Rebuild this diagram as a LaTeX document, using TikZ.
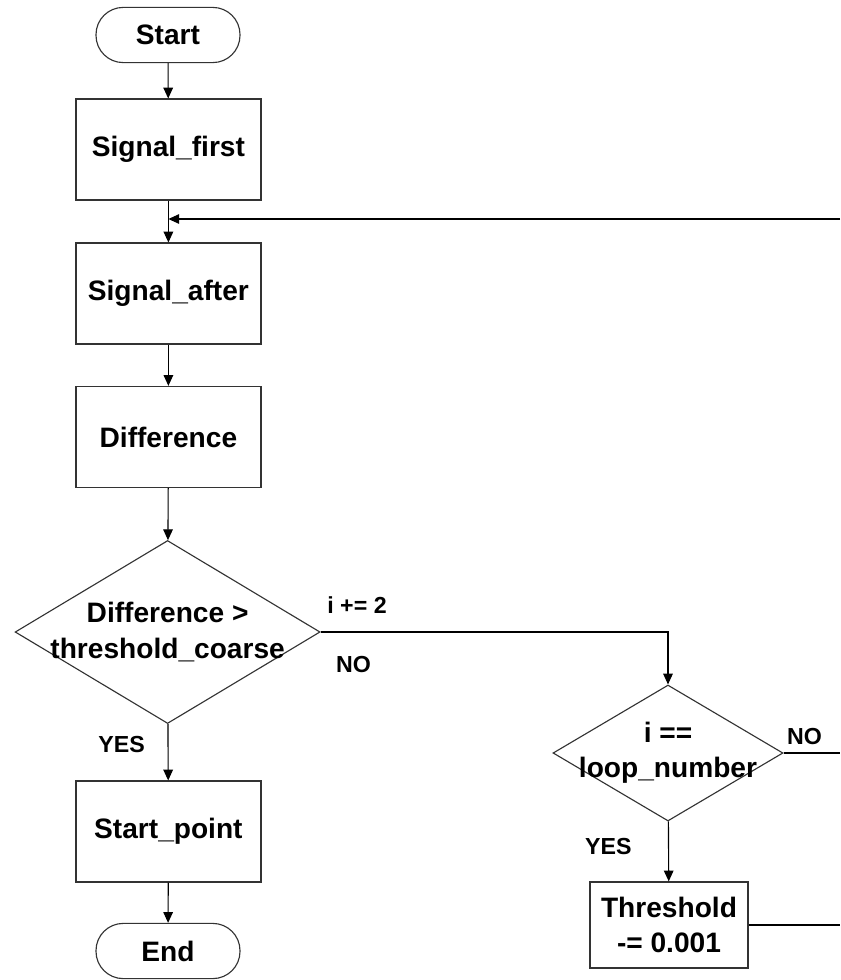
\documentclass[tikz,border=0pt]{standalone}
\usepackage{fontspec}
\setmainfont{Liberation Sans}
\usetikzlibrary{shapes.geometric,arrows.meta}

\tikzset{
  boxfont/.style={font=\fontsize{20}{25}\selectfont\bfseries},
  block/.style={boxfont, draw=black!80, line width=0.9pt, align=center,
    minimum width=4.625cm, minimum height=2.525cm},
  terminal/.style={boxfont, draw=black!80, line width=0.8pt, rounded corners=0.68cm,
    minimum width=3.6cm, minimum height=1.38cm},
  decision/.style={diamond, draw=black!80, line width=0.8pt, inner sep=0pt},
  tag/.style={font=\fontsize{16.5}{20}\selectfont\bfseries, inner sep=0pt},
  flow/.style={-{Triangle[length=0.27cm,width=0.24cm]}, line width=0.8pt},
}

\begin{document}
\begin{tikzpicture}
\fill[white] (0,0) rectangle (21,-24.5);
\useasboundingbox (0,0) rectangle (21,-24.5);

% main column
\node[terminal] (start) at (4.2,-0.875) {Start};
\node[block] (first) at (4.21,-3.74) {Signal\_first};
\node[block] (after) at (4.21,-7.34) {Signal\_after};
\node[block] (diff) at (4.21,-10.925) {Difference};
\node[decision, minimum width=7.625cm, minimum height=4.575cm,
  label={[boxfont, align=center]center:Difference >\\threshold\_coarse}] (dec1) at (4.19,-15.8) {};
\node[block] (startpt) at (4.21,-20.79) {Start\_point};
\node[terminal] (stop) at (4.2,-23.775) {End};

% right column
\node[decision, minimum width=5.75cm, minimum height=3.4cm,
  label={[boxfont, align=center]center:i ==\\loop\_number}] (dec2) at (16.7,-18.825) {};
\node[block, minimum width=3.95cm, minimum height=2.15cm] (thr) at (16.725,-23.125) {Threshold\\-= 0.001};

% edge labels
\node[tag] (inc) at (8.925,-15.125) {i += 2};
\node[tag] (no1) at (8.84,-16.625) {NO};
\node[tag] (yes1) at (3.04,-18.625) {YES};
\node[tag] (no2) at (20.11,-18.425) {NO};
\node[tag] (yes2) at (15.21,-21.175) {YES};

% loose ends at the right border
\coordinate (retin) at (21,-5.475);
\coordinate (join) at (first.south |- retin);
\coordinate (noout) at (21,-18.825);
\coordinate (throut) at (21,-23.125);

\foreach \a/\b in {start/first, first/after, after/diff, diff/dec1, dec1/startpt, startpt/stop, dec2/thr}
  \draw[flow] (\a) -- (\b);

\draw[flow] (retin) -- (join);
\draw[flow] (dec1.east) -| (dec2.north);
\draw[line width=0.8pt] (dec2.east) -- (noout);
\draw[line width=0.8pt] (thr.east) -- (throut);

\end{tikzpicture}
\end{document}
